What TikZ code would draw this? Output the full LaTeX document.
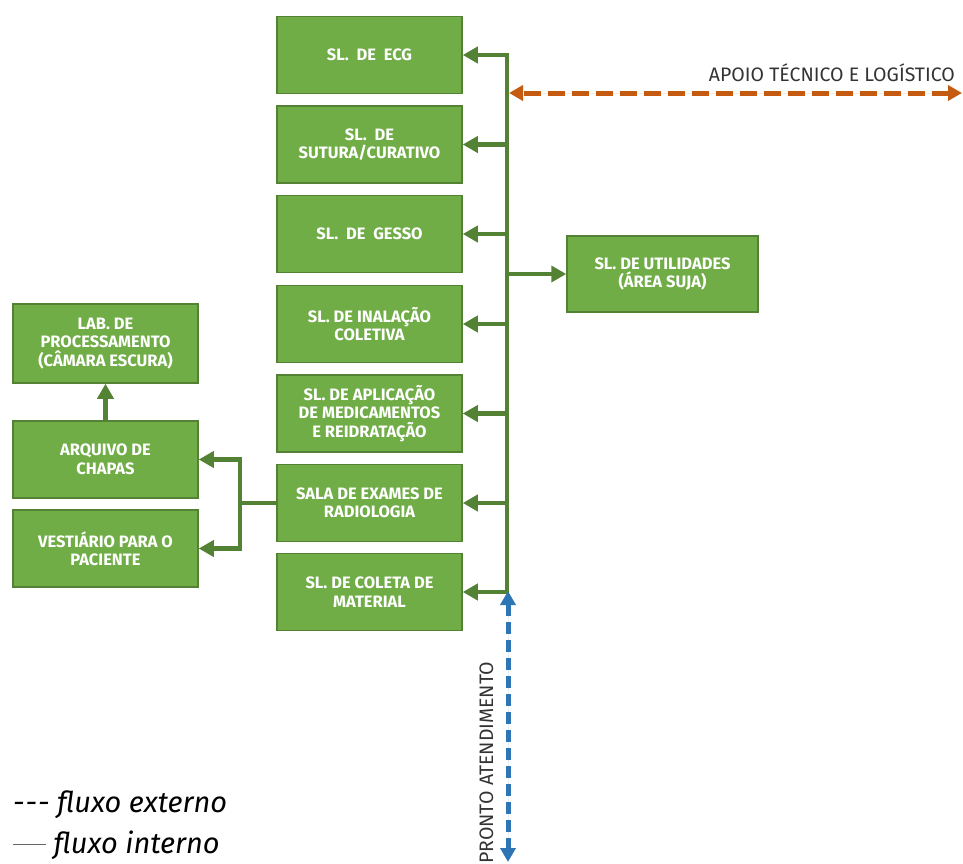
\documentclass[tikz,border=0pt]{standalone}
\usepackage{fontspec}
\setmainfont{Fira Sans}
\usetikzlibrary{arrows.meta}
\definecolor{boxfill}{HTML}{70AD47}
\definecolor{boxline}{HTML}{548235}
\definecolor{flowgreen}{HTML}{548235}
\definecolor{flowor}{HTML}{C55A11}
\definecolor{flowblue}{HTML}{2E75B6}
\tikzset{
  room/.style={rectangle, fill=boxfill, draw=boxline, line width=1.5pt,
    minimum width=185pt, minimum height=77pt, inner sep=2pt, text=white,
    align=center, font=\fontsize{16.5}{18.5}\selectfont\bfseries},
  inflow/.style={draw=flowgreen, line width=4.5pt},
  intip/.style={-{Triangle[length=15pt,width=16pt]}},
  bothtips/.style={{Triangle[length=15pt,width=16pt]}-{Triangle[length=15pt,width=16pt]}},
  extflow/.style={line width=5pt, {Triangle[length=14pt,width=15pt]}-{Triangle[length=14pt,width=15pt]}},
  flowlabel/.style={font=\fontsize{19.5}{21}\selectfont, text=black!80, inner sep=0pt},
  legend/.style={font=\fontsize{29}{31}\selectfont\itshape, anchor=west, inner sep=0pt}
}
\begin{document}
\begin{tikzpicture}[x=1pt,y=-1pt]
\useasboundingbox (0,0) rectangle (963,863);

% rooms served by the main corridor
\node[room] (ecg)  at (369.5,55)    {SL.\ \ DE\ \ ECG};
\node[room] (sut)  at (369.5,144.5) {SL.\ \ DE\\SUTURA/CURATIVO};
\node[room] (ges)  at (369.5,234)   {SL.\ \ DE\ \ GESSO};
\node[room] (ina)  at (369.5,324)   {SL. DE INALAÇÃO\\COLETIVA};
\node[room] (apl)  at (369.5,413.5) {SL. DE APLICAÇÃO\\DE MEDICAMENTOS\\E REIDRATAÇÃO};
\node[room] (rad)  at (369.5,503)   {SALA DE EXAMES DE\\RADIOLOGIA};
\node[room] (col)  at (369.5,592)   {SL. DE COLETA DE\\MATERIAL};

% radiology support rooms
\node[room, minimum height=79pt] (lab) at (105.5,343.5) {LAB. DE\\PROCESSAMENTO\\(CÂMARA ESCURA)};
\node[room] (arq)  at (105.5,459.5) {ARQUIVO DE\\CHAPAS};
\node[room] (ves)  at (105.5,548.5) {VESTIÁRIO PARA O\\PACIENTE};

% dirty utility room
\node[room, minimum width=191pt, minimum height=76pt] (uti) at (662.5,274) {SL. DE UTILIDADES\\(ÁREA SUJA)};

% junction lines
\coordinate (trunk) at (507,0);
\coordinate (rjoin) at (240,0);

% main internal corridor
\draw[inflow, bothtips]
  (ecg.east) -- (ecg.east -| trunk) -- (col.east -| trunk) -- (col.east);
\foreach \r in {sut,ges,ina,apl,rad}
  \draw[inflow, intip] (\r.east -| trunk) -- (\r.east);
\draw[inflow, intip] (trunk |- uti.west) -- (uti.west);

% radiology branch
\draw[inflow] (rad.west) -- (rad.west -| rjoin);
\draw[inflow, bothtips]
  (arq.east) -- (arq.east -| rjoin) -- (ves.east -| rjoin) -- (ves.east);
\draw[inflow, intip] (arq.north) -- (lab.south);

% external flows
\coordinate (apoioL) at (509,93);
\coordinate (apoioR) at (962,93);
\draw[extflow, draw=flowor, fill=flowor, dash pattern=on 17pt off 7pt] (apoioR) -- (apoioL);
\node[flowlabel, anchor=south east] (apoio) at (955,82) {APOIO TÉCNICO E LOGÍSTICO};

\coordinate (proTop) at (508,591);
\coordinate (proBot) at (508,862);
\draw[extflow, draw=flowblue, fill=flowblue, dash pattern=on 12pt off 6pt] (proTop) -- (proBot);
\node[flowlabel, font=\fontsize{19.5}{21}\selectfont, rotate=90, anchor=base west] (pronto) at (493,864) {PRONTO ATENDIMENTO};

% legend
\node[legend] (lext) at (13,805) {{-}\kern1pt{-}\kern1pt{-} fluxo externo};
\node[legend] (lint) at (13,845) {\textcolor{black!60}{\rule[0.3em]{33pt}{1pt}} fluxo interno};
\end{tikzpicture}
\end{document}
